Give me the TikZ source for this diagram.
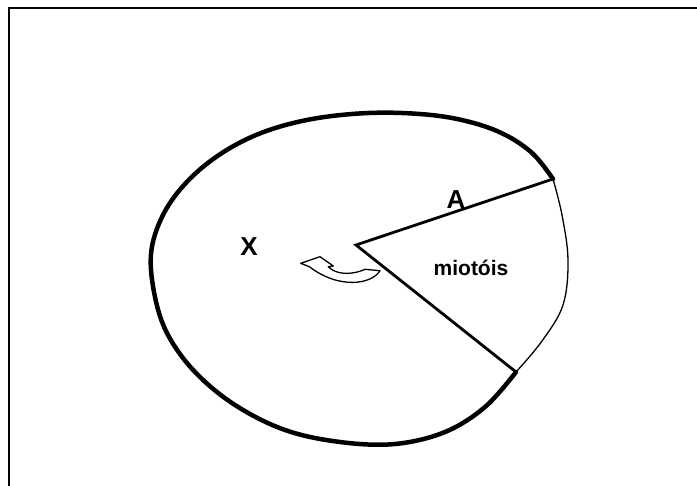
\documentclass[tikz,border=0pt]{standalone}
\usepackage{fontspec}
\setmainfont{Liberation Sans}
\begin{document}
\begin{tikzpicture}[x=1pt,y=-1pt,
  frame/.style={line width=2.2pt},
  rimthick/.style={line width=4.5pt},
  rimthin/.style={line width=1.3pt},
  radius line/.style={line width=2.8pt, line cap=round},
  lbl/.style={font=\bfseries\fontsize{26}{26}\selectfont, inner sep=0pt},
  smalllbl/.style={font=\bfseries\fontsize{21}{21}\selectfont, inner sep=0pt},
  turn/.style={line width=1.3pt, fill=white, line join=round}]
\useasboundingbox (0,0) rectangle (697,486);
\fill[white] (0,0) rectangle (697,486);
% frame (top and left edges)
\draw[frame] (697,8) -- (9,8) -- (9,486);
% key points
\coordinate (O) at (356,245);
\coordinate (A) at (553,179);
\coordinate (B) at (516,372);
% thick rim
\draw[rimthick, line cap=round] plot[smooth, tension=0.6] coordinates {
 (553,179) (531,152) (497,131) (452,118) (402,113) (352,114) (302,121)
 (256,135) (216,157) (184,185) (162,217) (151,254) (155,297) (168,335)
 (195,372) (235,405) (285,430) (340,442) (395,444) (445,432) (485,407) (516,372)};
% thin rim
\draw[rimthin] plot[smooth, tension=0.6] coordinates {
 (553,179) (562,215) (568,260) (563,305) (542,341) (516,372)};
% sector radii
\draw[radius line] (A) -- (O) -- (B);
% curved block arrow
\draw[turn] (300.7,263.3) -- (320,256.7) -- (333.3,266) -- (328.3,266.7)
  .. controls (335,274) and (350,276) .. (365,269.3)
  -- (380,270.7)
  .. controls (372,284) and (340,290) .. (309.3,266.7)
  -- cycle;
% labels
\node[lbl] (X) at (249,247) {X};
\node[lbl] (lA) at (456,200) {A};
\node[smalllbl] (m) at (471,268) {miotóis};
\end{tikzpicture}
\end{document}
